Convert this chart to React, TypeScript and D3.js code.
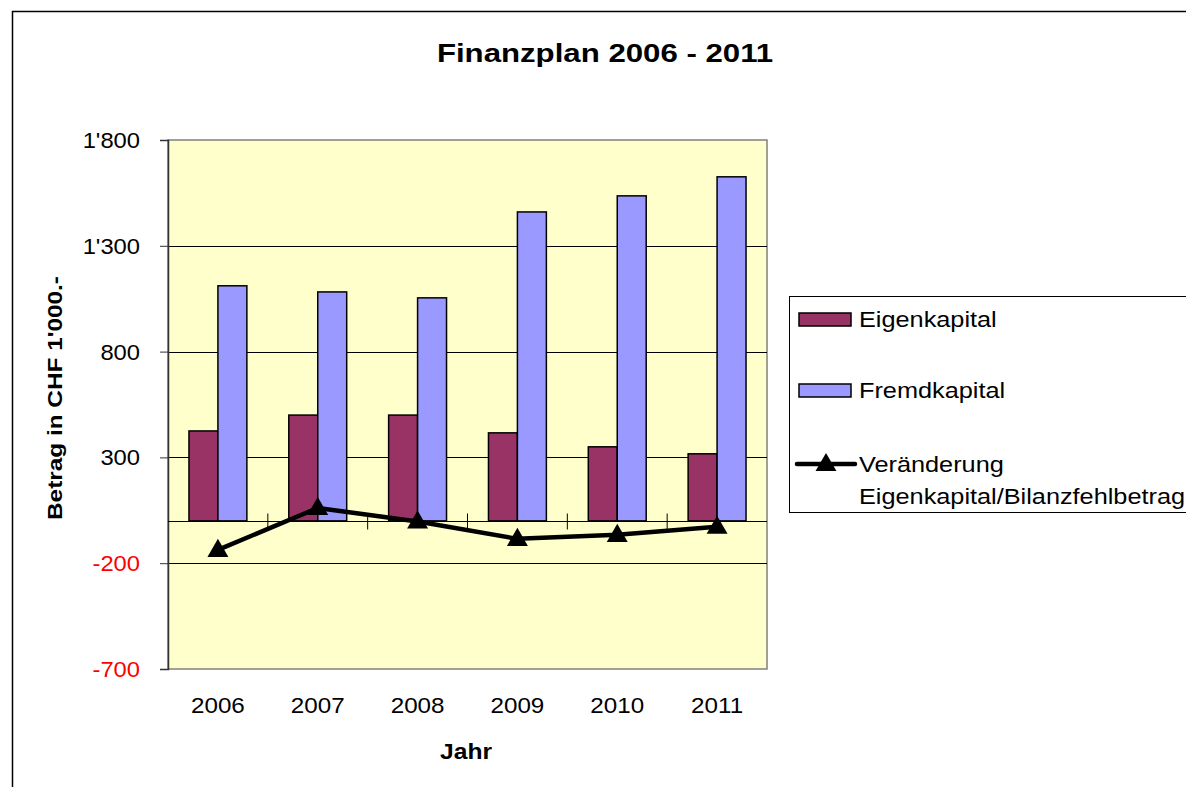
import React, { useEffect, useRef } from 'react';
import * as d3 from 'd3';

const years = ['2006', '2007', '2008', '2009', '2010', '2011'];
const eigenkapital = [425, 500, 500, 416, 350, 317];
const fremdkapital = [1111, 1082, 1054, 1460, 1536, 1626];
const veraenderung = [-137, 61, -3, -85, -66, -28];
const yTicks = [-700, -200, 300, 800, 1300, 1800];

const fmt = (v: number) => {
  const s = Math.abs(v).toString().replace(/\B(?=(\d{3})+(?!\d))/g, "'");
  return (v < 0 ? '-' : '') + s;
};

const font = 'Liberation Sans, Arial, sans-serif';

// the reference text is a bit wider than plain Arial, so stretch it horizontally
function label(g: any, x: number, y: number, txt: string, opts: any = {}) {
  const { size = 22, bold = false, anchor = 'start', sx = 1.1, fill = '#000', rotate = 0 } = opts;
  g.append('text')
    .attr('transform', `translate(${x},${y}) rotate(${rotate}) scale(${sx},1)`)
    .attr('text-anchor', anchor)
    .attr('font-family', font)
    .attr('font-size', size)
    .attr('font-weight', bold ? 'bold' : 'normal')
    .attr('fill', fill)
    .text(txt);
}

export default function App() {
  const svgRef = useRef<SVGSVGElement>(null);

  useEffect(() => {
    if (!svgRef.current) return;
    const svg = d3.select(svgRef.current);
    svg.selectAll('*').remove();

    const left = 168, right = 767, top = 140, bottom = 669;

    // outer chart frame
    svg.append('rect')
      .attr('x', 12.5).attr('y', 11.5)
      .attr('width', 1300).attr('height', 900)
      .attr('fill', 'white').attr('stroke', '#000').attr('stroke-width', 1.5);

    const x = d3.scaleBand().domain(years).range([left, right]);
    const y = d3.scaleLinear().domain([-700, 1800]).range([bottom, top]);

    // plot area
    svg.append('rect')
      .attr('x', left).attr('y', top)
      .attr('width', right - left).attr('height', bottom - top)
      .attr('fill', '#FFFFCC').attr('stroke', '#808080').attr('stroke-width', 1.5);

    // gridlines
    svg.append('g').selectAll('line')
      .data(yTicks.filter(t => t !== -700 && t !== 1800))
      .join('line')
      .attr('x1', left).attr('x2', right)
      .attr('y1', d => Math.round(y(d)) + 0.5).attr('y2', d => Math.round(y(d)) + 0.5)
      .attr('stroke', '#000').attr('stroke-width', 1);

    // y axis
    const yAxis = svg.append('g').attr('transform', `translate(${left},0)`)
      .call(d3.axisLeft(y).tickValues(yTicks).tickSize(8).tickFormat(() => ''));
    yAxis.select('.domain').attr('stroke', '#333').attr('stroke-width', 1.5);
    yAxis.selectAll('.tick line').attr('stroke', '#333');
    yTicks.forEach(t => {
      label(svg, 140, y(t) + 8, fmt(t), { anchor: 'end', sx: 1.08, fill: t < 0 ? '#FF0000' : '#000' });
    });

    // bars
    const inner = x.bandwidth() * 0.58;
    const sub = d3.scaleBand().domain(['e', 'f']).range([0, inner]);
    const off = (x.bandwidth() - inner) / 2;
    const series = [
      { key: 'e', values: eigenkapital, color: '#993366' },
      { key: 'f', values: fremdkapital, color: '#9999FF' },
    ];
    series.forEach(s => {
      svg.append('g').selectAll('rect')
        .data(s.values)
        .join('rect')
        .attr('x', (_, i) => (x(years[i]) as number) + off + (sub(s.key) as number))
        .attr('y', d => y(Math.max(0, d)))
        .attr('width', sub.bandwidth())
        .attr('height', d => Math.abs(y(d) - y(0)))
        .attr('fill', s.color).attr('stroke', '#000').attr('stroke-width', 1.5);
    });

    // category axis at zero
    const y0 = Math.round(y(0)) + 0.5;
    svg.append('line')
      .attr('x1', left).attr('x2', right).attr('y1', y0).attr('y2', y0)
      .attr('stroke', '#000').attr('stroke-width', 1);
    svg.append('g').selectAll('line')
      .data(years.slice(1))
      .join('line')
      .attr('x1', d => x(d) as number).attr('x2', d => x(d) as number)
      .attr('y1', y0 - 8).attr('y2', y0 + 8)
      .attr('stroke', '#000');

    // x labels
    years.forEach(yr => {
      label(svg, (x(yr) as number) + x.bandwidth() / 2, 713, yr, { anchor: 'middle', sx: 1.1 });
    });

    // line series
    const cx = (i: number) => (x(years[i]) as number) + x.bandwidth() / 2;
    const line = d3.line<number>().x((_, i) => cx(i)).y(d => y(d));
    svg.append('path')
      .datum(veraenderung)
      .attr('d', line)
      .attr('fill', 'none').attr('stroke', '#000').attr('stroke-width', 4.5)
      .attr('stroke-linejoin', 'round');
    const tri = d3.symbol().type(d3.symbolTriangle).size(190);
    svg.append('g').selectAll('path')
      .data(veraenderung)
      .join('path')
      .attr('transform', (d, i) => `translate(${cx(i)},${y(d) + 1})`)
      .attr('d', tri() as string)
      .attr('fill', '#000');

    // titles
    label(svg, 605, 62, 'Finanzplan 2006 - 2011', { size: 26, bold: true, anchor: 'middle', sx: 1.2 });
    label(svg, 62, 398, "Betrag in CHF 1'000.-", { size: 21, bold: true, anchor: 'middle', sx: 1.16, rotate: -90 });
    label(svg, 466, 759, 'Jahr', { size: 22, bold: true, anchor: 'middle', sx: 1.12 });

    // legend
    const lg = svg.append('g');
    lg.append('rect')
      .attr('x', 789.5).attr('y', 296.5).attr('width', 420).attr('height', 216)
      .attr('fill', 'white').attr('stroke', '#000').attr('stroke-width', 1);
    const items = [
      { label: 'Eigenkapital', color: '#993366', cy: 319 },
      { label: 'Fremdkapital', color: '#9999FF', cy: 390 },
    ];
    items.forEach(it => {
      lg.append('rect')
        .attr('x', 799).attr('y', it.cy - 6).attr('width', 52).attr('height', 13)
        .attr('fill', it.color).attr('stroke', '#000').attr('stroke-width', 1.5);
      label(lg, 859, it.cy + 8, it.label, { sx: 1.15 });
    });
    lg.append('line')
      .attr('x1', 797).attr('x2', 855).attr('y1', 464).attr('y2', 464)
      .attr('stroke', '#000').attr('stroke-width', 4.5).attr('stroke-linecap', 'round');
    lg.append('path')
      .attr('transform', 'translate(826,465)')
      .attr('d', tri() as string)
      .attr('fill', '#000');
    label(lg, 859, 472, 'Veränderung', { sx: 1.15 });
    label(lg, 859, 504, 'Eigenkapital/Bilanzfehlbetrag', { sx: 1.15 });
  }, []);

  return (
    <div style={{ position: 'absolute', left: 0, top: 0 }}>
      <svg ref={svgRef} width={1186} height={787} style={{ display: 'block' }} />
    </div>
  );
}
